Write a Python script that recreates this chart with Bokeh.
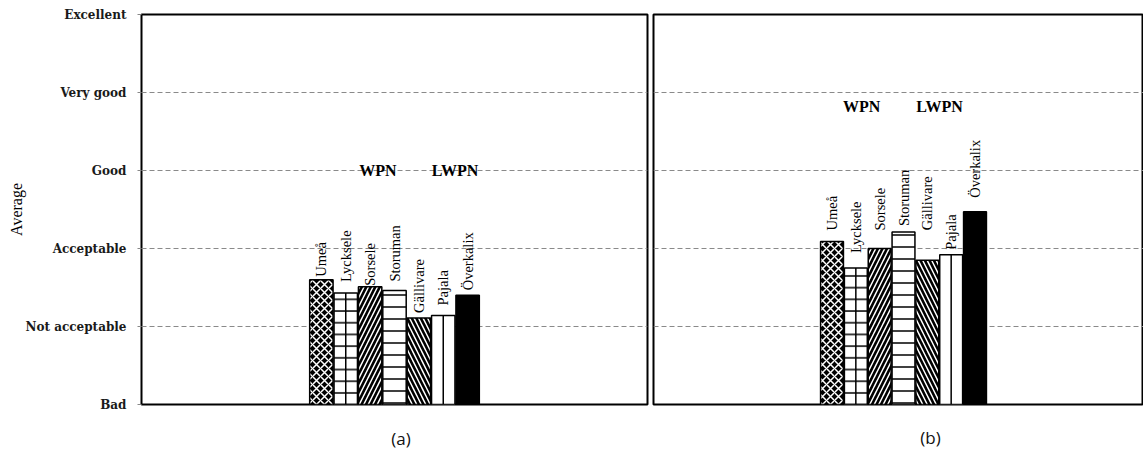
import math
from bokeh.plotting import figure
from bokeh.models import ColumnDataSource, Range1d, FixedTicker
from bokeh.layouts import row
from bokeh.core.properties import value
from bokeh.embed import file_html
from bokeh.resources import INLINE

# ---------------- data ----------------
cities = ["Umeå", "Lycksele", "Sorsele", "Storuman", "Gällivare", "Pajala", "Överkalix"]
avg_a = [1.60, 1.43, 1.51, 1.46, 1.11, 1.14, 1.40]
avg_b = [2.09, 1.75, 2.00, 2.21, 1.85, 1.92, 2.47]
levels = ["Bad", "Not acceptable", "Acceptable", "Good", "Very good", "Excellent"]
group_labels = ["WPN", "LWPN"]
panel_labels = ["(a)", "(b)"]
y_title = "Average"

# ---------------- styles ----------------
fill_colors = ["black", "white", "black", "white", "black", "white", "black"]
hatch_patterns = ["diagonal_cross", "horizontal_line", "right_diagonal_line",
                  "horizontal_line", "left_diagonal_line", "blank", "blank"]
hatch_colors = ["white", "black", "white", "black", "white", "black", "black"]
hatch_scales = [8, 11.7, 9, 12, 9, 12, 12]
mid_line = [False, True, False, False, False, True, False]
label_gap_a = [3, 11, 1, 9, 5, 10, 5]
label_gap_b = [11, 15, 18, 6, 30, 5, 14]

SERIF = "Liberation Serif"


def make_panel(vals, x_range, width, height, b_left, b_right, b_top, b_bottom,
               gaps, grp_x, grp_y, plabel, plabel_x, plabel_standoff, show_y):
    idx = list(range(len(cities)))
    p = figure(width=width, height=height, output_backend="svg", toolbar_location=None,
               x_range=Range1d(*x_range), y_range=Range1d(0, 5),
               min_border_left=b_left, min_border_right=b_right,
               min_border_top=b_top, min_border_bottom=b_bottom,
               background_fill_color="white", border_fill_color="white")
    p.outline_line_color = "black"
    p.outline_line_width = 2
    p.xgrid.visible = False
    p.ygrid.ticker = FixedTicker(ticks=[1, 2, 3, 4])
    p.ygrid.grid_line_color = "#8a8a8a"
    p.ygrid.grid_line_dash = "5 3"
    p.ygrid.grid_line_width = 1

    # panel caption "(a)" / "(b)" drawn as the single label of the bottom axis
    xa = p.xaxis[0]
    xa.ticker = FixedTicker(ticks=[plabel_x])
    xa.major_label_overrides = {plabel_x: plabel}
    xa.major_label_text_font = "Open Sans"
    xa.major_label_text_font_size = "17px"
    xa.major_label_text_color = "#111111"
    xa.major_label_standoff = plabel_standoff
    xa.major_tick_line_color = None
    xa.major_tick_out = 0
    xa.major_tick_in = 0
    xa.minor_tick_line_color = None
    xa.minor_tick_out = 0
    xa.axis_line_color = None

    if show_y:
        ax = p.yaxis[0]
        ax.ticker = FixedTicker(ticks=list(range(len(levels))))
        ax.major_label_overrides = {i: lv for i, lv in enumerate(levels)}
        ax.major_label_text_font = "DejaVu Serif"
        ax.major_label_text_font_size = "12px"
        ax.major_label_text_font_style = "bold"
        ax.major_label_text_color = "#1a1a1a"
        ax.major_label_standoff = 11
        ax.major_tick_out = 4
        ax.major_tick_in = 0
        ax.major_tick_line_color = "#888888"
        ax.minor_tick_line_color = None
        ax.axis_line_color = None
        ax.axis_label = y_title
        ax.axis_label_text_font = SERIF
        ax.axis_label_text_font_size = "16px"
        ax.axis_label_text_font_style = "normal"
        ax.axis_label_text_color = "black"
        ax.axis_label_standoff = -3
    else:
        p.yaxis.visible = False

    src = ColumnDataSource(dict(x=idx, top=vals, fill=fill_colors, hp=hatch_patterns,
                                hc=hatch_colors, hs=hatch_scales, name=cities,
                                gap=[-g for g in gaps]))
    p.vbar(x="x", top="top", bottom=0, width=0.96, source=src,
           fill_color="fill", line_color="black", line_width=1.5,
           hatch_pattern="hp", hatch_color="hc", hatch_scale="hs", hatch_weight=1.5)

    mx = [i for i, m in zip(idx, mid_line) if m]
    my = [v for v, m in zip(vals, mid_line) if m]
    p.segment(x0=mx, y0=[0] * len(mx), x1=mx, y1=my, line_color="black", line_width=1.5)

    p.text(x="x", y="top", text="name", source=src, angle=math.pi / 2,
           y_offset="gap", text_align="left", text_baseline="middle",
           text_font=value(SERIF), text_font_size="14.5px", text_color="black")

    p.text(x=grp_x, y=grp_y, text=group_labels, text_align="center",
           text_baseline="middle", text_font=value(SERIF), text_font_size="16px",
           text_font_style="bold", text_color="black")
    return p


pa = make_panel(avg_a, (3 - 10.38, 3 + 10.38), 650, 452, 141, 3, 12, 48,
                label_gap_a, [2.32, 5.48], [3.0, 3.0], panel_labels[0], 3.27, 22, True)
pb = make_panel(avg_b, (-7.49, 13.07), 493, 452, 3, 0, 14, 47,
                label_gap_b, [1.24, 4.51], [3.82, 3.82], panel_labels[1], 4.13, 21, False)

layout = row(pa, pb)
open("out.html", "w").write(file_html(layout, INLINE))
